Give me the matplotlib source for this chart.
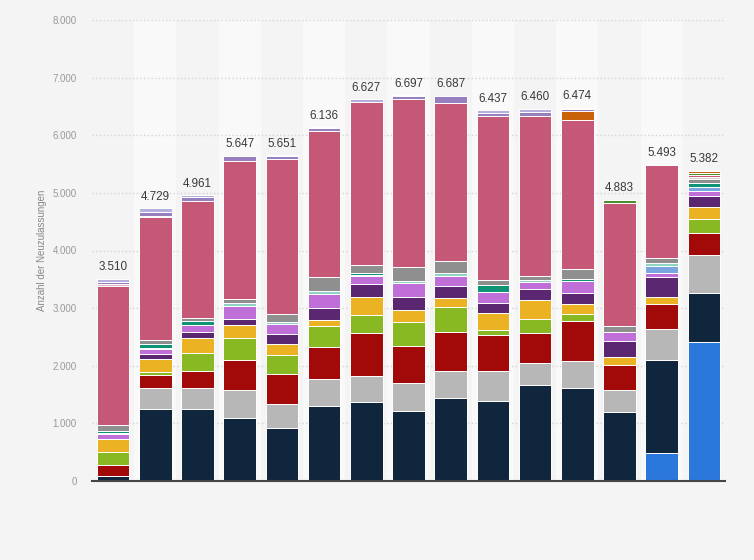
import matplotlib
matplotlib.use("Agg")
import matplotlib.pyplot as plt
import numpy as np

plt.rcParams['font.family'] = ['Liberation Sans', 'DejaVu Sans']

# totals shown above the bars
totals = [3510, 4729, 4961, 5647, 5651, 6136, 6627, 6697, 6687, 6437, 6460, 6474, 4883, 5493, 5382]

# stacked segments, bottom to top
blue = [0, 0, 0, 0, 0, 0, 0, 0, 0, 0, 0, 0, 0, 480, 2413]
navy = [81, 1256, 1244, 1088, 914, 1302, 1366, 1209, 1435, 1383, 1661, 1609, 1198, 1621, 851]
lgray = [0, 359, 371, 492, 423, 469, 457, 492, 475, 532, 393, 474, 382, 538, 660]
red = [197, 225, 295, 521, 521, 561, 746, 643, 677, 614, 515, 689, 434, 434, 387]
ygreen = [225, 47, 312, 376, 330, 359, 313, 416, 434, 87, 244, 122, 0, 0, 238]
yellow = [226, 226, 255, 226, 185, 98, 318, 214, 156, 306, 329, 173, 139, 127, 214]
dpurple = [0, 92, 104, 104, 174, 214, 226, 226, 214, 174, 191, 197, 278, 342, 185]
orchid = [87, 81, 121, 231, 184, 244, 138, 238, 173, 185, 122, 203, 162, 69, 87]
lblue = [0, 0, 0, 0, 0, 0, 0, 0, 0, 0, 0, 0, 0, 122, 75]
mint = [23, 23, 0, 52, 29, 52, 15, 40, 47, 0, 40, 0, 0, 46, 0]
teal = [29, 69, 69, 0, 0, 0, 32, 0, 0, 127, 0, 45, 0, 0, 64]
gray = [104, 70, 52, 75, 145, 248, 144, 243, 208, 87, 64, 163, 98, 98, 63]
pale = [0, 0, 0, 0, 0, 0, 0, 0, 0, 0, 0, 0, 0, 0, 30]
pink = [2413, 2135, 2038, 2391, 2680, 2529, 2830, 2906, 2744, 2842, 2778, 2592, 2130, 1609, 45]
lpink = [29, 23, 0, 0, 0, 0, 0, 0, 0, 0, 0, 0, 0, 0, 0]
green = [0, 0, 0, 0, 0, 0, 0, 0, 0, 0, 0, 0, 62, 0, 35]
orange = [0, 0, 0, 0, 0, 0, 0, 0, 0, 0, 0, 151, 0, 0, 35]
lavender = [41, 64, 75, 86, 57, 52, 0, 57, 121, 47, 64, 40, 0, 0, 0]
llavender = [55, 59, 25, 5, 9, 8, 42, 13, 3, 53, 59, 16, 0, 7, 0]

series = [
    (blue, '#2a78dc'), (navy, '#10263d'), (lgray, '#b7b7b7'), (red, '#a20a0a'),
    (ygreen, '#88b923'), (yellow, '#ebb223'), (dpurple, '#5b2771'), (orchid, '#c06fd9'),
    (lblue, '#7aa6e0'), (mint, '#8fd3c3'), (teal, '#0c9474'), (gray, '#8f8f8f'),
    (pale, '#d9d2c8'), (pink, '#c65877'), (lpink, '#dcb4c4'), (green, '#4c8f2f'),
    (orange, '#c9610b'), (lavender, '#9680bf'), (llavender, '#b5afe0'),
]

x = np.arange(len(totals))

fig = plt.figure(figsize=(7.54, 5.6), dpi=100, facecolor='#f4f4f4')
ax = fig.add_axes([92 / 754, 1 - 481 / 560, (725 - 92) / 754, (481 - 20) / 560])
ax.set_facecolor('#f4f4f4')

# alternating column bands
for i in x:
    if i % 2 == 1:
        ax.axvspan(i - 0.5, i + 0.5, color='#f9f9f9', zorder=0, lw=0)

bottom = np.zeros(len(totals))
for vals, col in series:
    vals = np.array(vals, dtype=float)
    ax.bar(x, vals, bottom=bottom, width=0.77, color=col,
           edgecolor='white', linewidth=0.7, zorder=3)
    bottom += vals

for xi, t in zip(x, totals):
    ax.annotate(f"{t:,}".replace(',', '.'), (xi, t), xytext=(0, 4),
                textcoords='offset points', ha='center', va='bottom',
                fontsize=8.4, color='#3a3a3a', zorder=4)

ax.set_xlim(-0.5, len(totals) - 0.5)
ax.set_ylim(0, 8000)
ax.set_yticks(np.arange(0, 8001, 1000))
ax.set_yticklabels([f"{v:,}".replace(',', '.') for v in range(0, 8001, 1000)])
ax.tick_params(axis='y', length=0, labelsize=7, labelcolor='#999999', pad=11)
ax.set_xticks([])
ax.grid(axis='y', linestyle=':', color='#d4d4d4', linewidth=1, zorder=1)

for s in ['top', 'right', 'left']:
    ax.spines[s].set_visible(False)
ax.spines['bottom'].set_color('#444444')
ax.spines['bottom'].set_linewidth(1.5)
ax.spines['bottom'].set_zorder(5)

ax.set_ylabel('Anzahl der Neuzulassungen', fontsize=7, color='#888888', labelpad=4)

fig.savefig('out.png', dpi=100, facecolor=fig.get_facecolor())
